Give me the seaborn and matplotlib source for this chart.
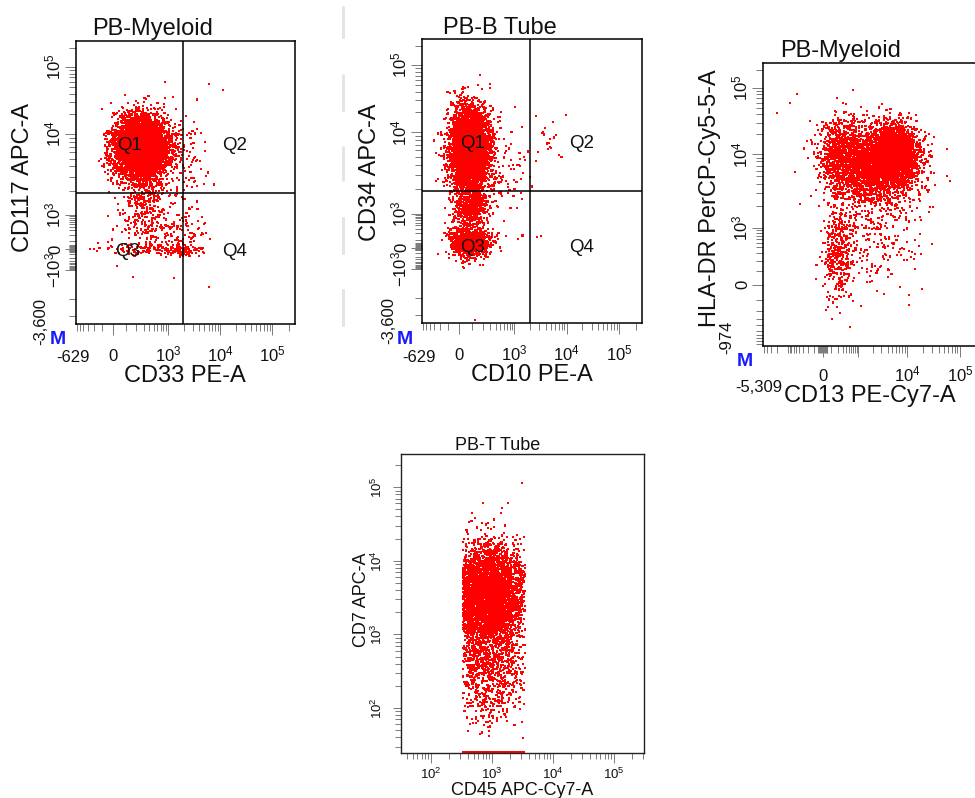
import numpy as np
import pandas as pd
import matplotlib
matplotlib.use("Agg")
import matplotlib.pyplot as plt
import seaborn as sns
from matplotlib.ticker import FixedLocator, FixedFormatter, NullFormatter
from matplotlib.lines import Line2D

# ======================= DATA =======================
def sup(e, neg=False):
    return ("$\\mathregular{-10^{%d}}$" if neg else "$\\mathregular{10^{%d}}$") % e

# ---- Panel 1 : PB-Myeloid, CD33 PE-A vs CD117 APC-A
P1_TITLE, P1_XLABEL, P1_YLABEL = "PB-Myeloid", "CD33 PE-A", "CD117 APC-A"
P1_XMIN_LABEL, P1_YMIN_LABEL = "-629", "-3,600"
P1_XLIM = [-629, 262143]
P1_YLIM = [-3600, 262143]
P1_XTICKS = [0, 1e3, 1e4, 1e5]
P1_XTICKLABELS = ["0", sup(3), sup(4), sup(5)]
P1_YTICKS = [-1e3, 0, 1e3, 1e4, 1e5]
P1_YTICKLABELS = [sup(3, True), "0", sup(3), sup(4), sup(5)]
P1_QUAD = [1950, 1880]
QUAD_NAMES = ["Q1", "Q2", "Q3", "Q4"]
P1_CL_X = [240, 350, 300, 600, 300, 1800, 3000, 3000]
P1_CL_Y = [7200, 6000, 1500, 300, 0, -30, 5000, 400]
P1_CL_SDX = [0.052, 0.08, 0.05, 0.09, 0.10, 0.04, 0.035, 0.04]
P1_CL_SDY = [0.047, 0.07, 0.05, 0.04, 0.012, 0.01, 0.06, 0.05]
P1_CL_N = [5200, 1200, 250, 150, 120, 80, 40, 40]
P1_OUT_X = [860, 860, 6100, 11400, 6100, 163, 1320, 27]
P1_OUT_Y = [59700, 34600, 55800, 45500, -1500, -1180, -1200, -610]

# ---- Panel 2 : PB-B Tube, CD10 PE-A vs CD34 APC-A
P2_TITLE, P2_XLABEL, P2_YLABEL = "PB-B Tube", "CD10 PE-A", "CD34 APC-A"
P2_XMIN_LABEL, P2_YMIN_LABEL = "-629", "-3,600"
P2_XLIM = [-629, 262143]
P2_YLIM = [-3600, 262143]
P2_XTICKS = [0, 1e3, 1e4, 1e5]
P2_XTICKLABELS = ["0", sup(3), sup(4), sup(5)]
P2_YTICKS = [-1e3, 0, 1e3, 1e4, 1e5]
P2_YTICKLABELS = [sup(3, True), "0", sup(3), sup(4), sup(5)]
P2_QUAD = [1970, 1900]
P2_CL_X = [80, 90, 80, 700, 4000]
P2_CL_Y = [6100, 1200, 50, 3000, 8000]
P2_CL_SDX = [0.045, 0.04, 0.045, 0.05, 0.05]
P2_CL_SDY = [0.075, 0.035, 0.025, 0.08, 0.05]
P2_CL_N = [4600, 550, 1100, 70, 20]
P2_OUT_X = [300, 121, 2700, 3200]
P2_OUT_Y = [52700, -3350, 137, 150]

# ---- Panel 3 : PB-Myeloid, CD13 PE-Cy7-A vs HLA-DR PerCP-Cy5-5-A
P3_TITLE, P3_XLABEL, P3_YLABEL = "PB-Myeloid", "CD13 PE-Cy7-A", "HLA-DR PerCP-Cy5-5-A"
P3_XMIN_LABEL, P3_YMIN_LABEL = "-5,309", "-974"
P3_XLIM = [-5309, 262143]
P3_YLIM = [-974, 262143]
P3_XTICKS = [0, 1e3, 1e4, 1e5]
P3_XTICKLABELS = ["0", "", sup(4), sup(5)]
P3_YTICKS = [0, 1e3, 1e4, 1e5]
P3_YTICKLABELS = ["0", sup(3), sup(4), sup(5)]
P3_CL_X = [5670, 1750, 240, 203, 2810]
P3_CL_Y = [9750, 7150, 11600, 365, 580]
P3_CL_SDX = [0.05, 0.10, 0.04, 0.035, 0.09]
P3_CL_SDY = [0.05, 0.07, 0.06, 0.09, 0.09]
P3_CL_N = [2500, 2500, 500, 400, 200]
P3_OUT_X = [-1960, -765, -470, 685, 11000, 11000]
P3_OUT_Y = [41600, 59500, 80700, 93400, -67, -144]

# ---- Panel 4 : PB-T Tube, CD45 APC-Cy7-A vs CD7 APC-A (log axes)
P4_TITLE, P4_XLABEL, P4_YLABEL = "PB-T Tube", "CD45 APC-Cy7-A", "CD7 APC-A"
P4_XLIM = [10 ** 1.508, 10 ** 5.492]
P4_YLIM = [10 ** 1.39, 10 ** 5.45]
P4_TICKS = [1e2, 1e3, 1e4, 1e5]
P4_TICKLABELS = [sup(2), sup(3), sup(4), sup(5)]
P4_GATE_X = [330, 3450]
P4_CL_LOGX = [2.95, 2.95]
P4_CL_LOGY = [3.55, 2.6]
P4_CL_SDX = [0.32, 0.32]
P4_CL_SDY = [0.33, 0.40]
P4_CL_N = [3800, 1000]
P4_FLOOR_N = 160
P4_OUT_X = [3100]
P4_OUT_Y = [1.15e5]

# ======================= LAYOUT / STYLE =======================
W, H = 975, 798
BOX1 = (76, 41, 295, 324)
BOX2 = (422, 39, 642, 323)
BOX3 = (763, 63, 983, 346)
BOX4 = (401, 454, 644, 753)
A12_XV, A12_XP = [-629, 0, 1e3, 1e4, 1e5, 262143], [0, .169, .420, .658, .895, 1]
A12_YV, A12_YP = [-3600, -1000, 0, 1e3, 1e4, 1e5, 262143], [0, .191, .265, .385, .671, .908, 1]
A3_XV, A3_XP = [-5309, 0, 1e3, 1e4, 1e5, 262143], [0, .273, .432, .655, .895, 1]
A3_YV, A3_YP = [-974, 0, 1e3, 1e4, 1e5, 262143], [0, .216, .417, .678, .912, 1]
RED = "#ff0000"
TICKC = "#7a7a7a"
TXT = "#111111"

sns.set_style("white")
plt.rcParams["font.family"] = ["Liberation Sans", "DejaVu Sans"]
plt.rcParams["mathtext.fontset"] = "custom"
plt.rcParams["mathtext.rm"] = "Liberation Sans"
plt.rcParams["mathtext.it"] = "Liberation Sans:italic"
plt.rcParams["mathtext.bf"] = "Liberation Sans:bold"

rng = np.random.default_rng(11)
fig = plt.figure(figsize=(W / 100, H / 100), dpi=100)


def add_ax(box):
    L, T, R, B = box
    return fig.add_axes([L / W, 1 - B / H, (R - L) / W, (B - T) / H])


def to_ax(box, x, y):
    L, T, R, B = box
    return (x - L) / (R - L), (B - y) / (B - T)


def ftext(x, y, s, **kw):
    fig.text(x / W, 1 - y / H, s, **kw)


def biex(vals, pos, w=150.0):
    a = np.arcsinh(np.asarray(vals, float) / w)
    p = np.asarray(pos, float)
    s0 = (p[1] - p[0]) / (a[1] - a[0])
    s1 = (p[-1] - p[-2]) / (a[-1] - a[-2])
    ae = np.r_[a[0] - 15, a, a[-1] + 15]
    pe = np.r_[p[0] - 15 * s0, p, p[-1] + 15 * s1]

    def fwd(x):
        return np.interp(np.arcsinh(np.asarray(x, float) / w), ae, pe)

    def inv(y):
        return w * np.sinh(np.interp(np.asarray(y, float), pe, ae))
    return fwd, inv


def biex_minors(lo, hi, fine_zero=False):
    m = []
    for d in [100, 1000, 10000, 100000]:
        for k in range(1, 10):
            if k == 1 and d > 100:
                continue
            m += [k * d, -k * d]
    if fine_zero:
        m += [s * k * 10 for k in range(1, 6) for s in (1, -1)]
    return sorted(v for v in set(m) if lo < v < hi)


def gen_clusters(fx, ix, fy, iy, cx, cy, sdx, sdy, ns, ox, oy):
    xs, ys = [], []
    for a, b, sa, sb, n in zip(cx, cy, sdx, sdy, ns):
        u = rng.normal(fx(a), sa, n)
        v = rng.normal(fy(b), sb, n)
        k = (u > 0.002) & (u < 0.998) & (v > 0.002) & (v < 0.998)
        xs.append(ix(u[k]))
        ys.append(iy(v[k]))
    xs.append(np.asarray(ox, float))
    ys.append(np.asarray(oy, float))
    return pd.DataFrame({"x": np.concatenate(xs), "y": np.concatenate(ys)})


def style_ticks(ax, axis, majors, labels, minors, fs, pad, maj=8, mnr=5):
    a = ax.xaxis if axis == "x" else ax.yaxis
    a.set_major_locator(FixedLocator(majors))
    a.set_major_formatter(FixedFormatter(labels))
    a.set_minor_locator(FixedLocator(minors))
    a.set_minor_formatter(NullFormatter())
    kw = dict(direction="out", color=TICKC, width=0.7)
    if axis == "x":
        ax.tick_params(axis="x", which="both", bottom=True, top=False, **kw)
    else:
        ax.tick_params(axis="y", which="both", left=True, right=False, **kw)
    ax.tick_params(axis=axis, which="major", length=maj, pad=pad, labelsize=fs, labelcolor=TXT)
    ax.tick_params(axis=axis, which="minor", length=mnr)
    if axis == "x":
        plt.setp(ax.get_xticklabels(), va="baseline")
    else:
        plt.setp(ax.get_yticklabels(), rotation=90, va="center", ha="right")


def frame(ax, color="black", lw=1.1):
    for sp in ax.spines.values():
        sp.set_visible(True)
        sp.set_color(color)
        sp.set_linewidth(lw)
    ax.set_facecolor("white")


def labels(ax, box, title, tpos, xl, xpos, yl, ypos, fs):
    tu, tv = to_ax(box, *tpos)
    ax.set_title(title, x=tu, y=tv, va="baseline", ha="center", fontsize=fs, pad=0, color=TXT)
    ax.set_xlabel(xl, fontsize=fs, color=TXT)
    ax.xaxis.set_label_coords(*to_ax(box, *xpos))
    ax.xaxis.label.set_va("baseline")
    ax.set_ylabel(yl, fontsize=fs, color=TXT)
    ax.yaxis.set_label_coords(*to_ax(box, *ypos))
    ax.yaxis.label.set_va("center")


def scatter(ax, df):
    sns.scatterplot(data=df, x="x", y="y", ax=ax, color=RED, marker="s", s=2.3,
                    linewidth=0, edgecolor="none", legend=False, rasterized=True)


# ======================= PANELS 1 & 2 =======================
panels12 = [
    (BOX1, P1_TITLE, P1_XLABEL, P1_YLABEL, P1_XMIN_LABEL, P1_YMIN_LABEL, P1_XLIM, P1_YLIM,
     P1_XTICKS, P1_XTICKLABELS, P1_YTICKS, P1_YTICKLABELS, P1_QUAD,
     (P1_CL_X, P1_CL_Y, P1_CL_SDX, P1_CL_SDY, P1_CL_N, P1_OUT_X, P1_OUT_Y),
     dict(t=(153, 35), x=(185, 382), y=(23, 177), xm=(73, 358), ym=(41, 322), m=(58, 340),
          q=[(130, 145), (235, 145), (128, 252), (235, 252)])),
    (BOX2, P2_TITLE, P2_XLABEL, P2_YLABEL, P2_XMIN_LABEL, P2_YMIN_LABEL, P2_XLIM, P2_YLIM,
     P2_XTICKS, P2_XTICKLABELS, P2_YTICKS, P2_YTICKLABELS, P2_QUAD,
     (P2_CL_X, P2_CL_Y, P2_CL_SDX, P2_CL_SDY, P2_CL_N, P2_OUT_X, P2_OUT_Y),
     dict(t=(500, 34), x=(532, 381), y=(370, 172), xm=(419, 357), ym=(389, 320), m=(405, 339),
          q=[(473, 143), (582, 143), (473, 248), (582, 248)])),
]

fx12, ix12 = biex(A12_XV, A12_XP)
fy12, iy12 = biex(A12_YV, A12_YP)

for (box, title, xl, yl, xm, ym, xlim, ylim, xt, xtl, yt, ytl, quad, cl, pos) in panels12:
    ax = add_ax(box)
    ax.set_xscale("function", functions=(fx12, ix12))
    ax.set_yscale("function", functions=(fy12, iy12))
    df = gen_clusters(fx12, ix12, fy12, iy12, *cl)
    scatter(ax, df)
    ax.set_xlim(*xlim)
    ax.set_ylim(*ylim)
    frame(ax)
    ax.axvline(quad[0], color="black", lw=1.1)
    ax.axhline(quad[1], color="black", lw=1.1)
    style_ticks(ax, "x", xt, xtl, biex_minors(*xlim), 12, 18.7)
    style_ticks(ax, "y", yt, ytl, biex_minors(*ylim, fine_zero=True), 12, 1.0)
    labels(ax, box, title, pos["t"], xl, pos["x"], yl, pos["y"], 17)
    for name, (qx, qy) in zip(QUAD_NAMES, pos["q"]):
        ax.text(*to_ax(box, qx, qy), name, transform=ax.transAxes, ha="center", va="center",
                fontsize=13.5, color=TXT)
    ftext(*pos["xm"], xm, ha="center", va="center", fontsize=12, color=TXT)
    ftext(*pos["ym"], ym, ha="center", va="center", rotation=90, fontsize=12, color=TXT)
    ftext(*pos["m"], "M", ha="center", va="center", fontsize=14, fontweight="bold", color="#1a1aff")

# ======================= PANEL 3 =======================
fx3, ix3 = biex(A3_XV, A3_XP)
fy3, iy3 = biex(A3_YV, A3_YP)
ax3 = add_ax(BOX3)
ax3.set_xscale("function", functions=(fx3, ix3))
ax3.set_yscale("function", functions=(fy3, iy3))
df3 = gen_clusters(fx3, ix3, fy3, iy3, P3_CL_X, P3_CL_Y, P3_CL_SDX, P3_CL_SDY, P3_CL_N, P3_OUT_X, P3_OUT_Y)
scatter(ax3, df3)
ax3.set_xlim(*P3_XLIM)
ax3.set_ylim(*P3_YLIM)
frame(ax3)
style_ticks(ax3, "x", P3_XTICKS, P3_XTICKLABELS, biex_minors(*P3_XLIM, fine_zero=True), 12, 17.3)
style_ticks(ax3, "y", P3_YTICKS, P3_YTICKLABELS, biex_minors(*P3_YLIM), 12, 1.0)
labels(ax3, BOX3, P3_TITLE, (841, 57), P3_XLABEL, (870, 402), P3_YLABEL, (710, 198), 17)
ftext(759, 388, P3_XMIN_LABEL, ha="center", va="center", fontsize=12, color=TXT)
ftext(727, 337, P3_YMIN_LABEL, ha="center", va="center", rotation=90, fontsize=12, color=TXT)
ftext(745, 362, "M", ha="center", va="center", fontsize=14, fontweight="bold", color="#1a1aff")

# ======================= PANEL 4 =======================
ax4 = add_ax(BOX4)
ax4.set_xscale("log")
ax4.set_yscale("log")
xs4, ys4 = [], []
for lx, ly, sx, sy, n in zip(P4_CL_LOGX, P4_CL_LOGY, P4_CL_SDX, P4_CL_SDY, P4_CL_N):
    gx = rng.normal(lx, sx, n * 3)
    gx = gx[(gx > np.log10(P4_GATE_X[0])) & (gx < np.log10(P4_GATE_X[1]))][:n]
    gy = rng.normal(ly, sy, gx.size)
    gy = np.clip(gy, np.log10(P4_YLIM[0]) + 0.01, None)
    xs4.append(10 ** gx)
    ys4.append(10 ** gy)
fl = rng.normal(2.95, 0.32, P4_FLOOR_N * 3)
fl = fl[(fl > np.log10(P4_GATE_X[0])) & (fl < np.log10(P4_GATE_X[1]))][:P4_FLOOR_N]
xs4.append(10 ** fl)
ys4.append(np.full(fl.size, P4_YLIM[0] * 1.03))
xs4.append(np.asarray(P4_OUT_X, float))
ys4.append(np.asarray(P4_OUT_Y, float))
df4 = pd.DataFrame({"x": np.concatenate(xs4), "y": np.concatenate(ys4)})
scatter(ax4, df4)
ax4.set_xlim(*P4_XLIM)
ax4.set_ylim(*P4_YLIM)
frame(ax4, color="#222222", lw=1.0)
mn4 = [k * 10 ** d for d in range(1, 6) for k in range(2, 10)]
style_ticks(ax4, "x", P4_TICKS, P4_TICKLABELS, [v for v in mn4 if P4_XLIM[0] < v < P4_XLIM[1]], 9.5, 11.5, 7, 4.5)
style_ticks(ax4, "y", P4_TICKS, P4_TICKLABELS, [v for v in mn4 if P4_YLIM[0] < v < P4_YLIM[1]], 9.5, 5.5, 6, 4)
labels(ax4, BOX4, P4_TITLE, (498, 450), P4_XLABEL, (522, 795), P4_YLABEL, (361, 600), 13)

# faint separator fragments between the first two panels
for y0, y1 in [(7, 37), (75, 110), (147, 180), (218, 253), (290, 325)]:
    fig.add_artist(Line2D([343 / W, 343 / W], [1 - y0 / H, 1 - y1 / H], color="#e4e4e4", lw=2.2))

fig.savefig("out.png", dpi=100)
